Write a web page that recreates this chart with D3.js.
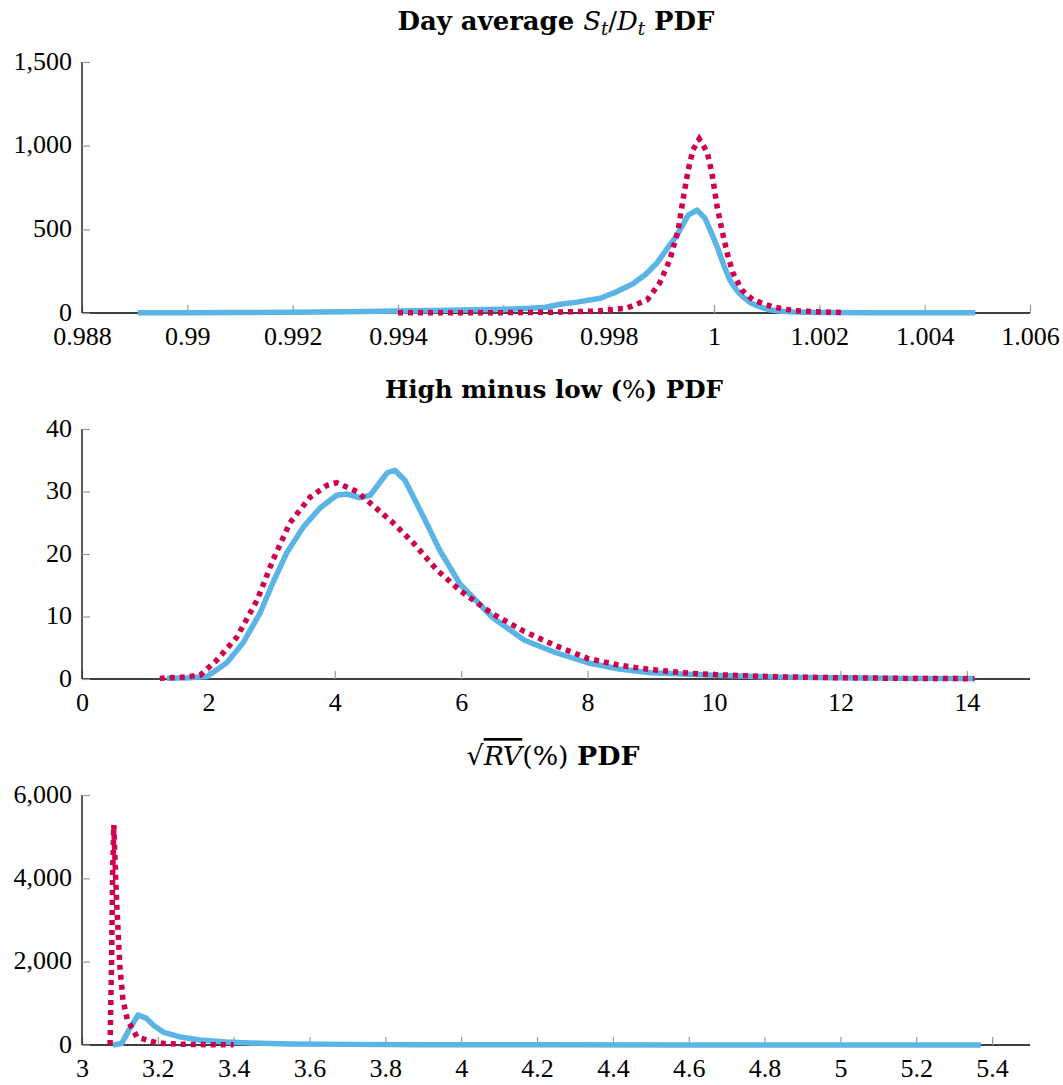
<!DOCTYPE html>
<html>
<head>
<meta charset="utf-8">
<script src="https://cdn.jsdelivr.net/npm/d3@7"></script>
<style>
    body { margin: 0; background: #fff; }
    svg text { fill: #000; }
</style>
</head>
<body>
<div id="chart"></div>
<script>
// panel 1: day average S/D
const p1BlueX = [0.98906, 0.990, 0.991, 0.992, 0.993, 0.994, 0.995, 0.996, 0.9965, 0.9968, 0.99708, 0.9974, 0.99784, 0.9981, 0.99846, 0.99870, 0.99892, 0.99910, 0.9993, 0.99951, 0.99968, 0.99983, 0.99995, 1.00006, 1.00018, 1.0003, 1.00042, 1.00055, 1.0007, 1.00087, 1.00105, 1.00125, 1.0015, 1.002, 1.003, 1.004, 1.00496];
const p1BlueY = [1, 2, 3, 5, 8, 12, 16, 22, 28, 34, 52, 65, 88, 120, 175, 230, 300, 380, 466, 585, 615, 565, 480, 395, 290, 197, 140, 96, 60, 36, 20, 12, 6, 3, 2, 1, 1];
const p1RedX = [0.9940, 0.995, 0.996, 0.997, 0.9978, 0.99835, 0.99873, 0.99897, 0.99916, 0.99932, 0.99941, 0.99951, 0.9996, 0.99972, 0.99987, 0.99996, 1.00006, 1.00015, 1.00025, 1.00036, 1.00053, 1.00074, 1.00112, 1.0015, 1.002, 1.0025];
const p1RedY = [1, 1, 2, 5, 12, 30, 78, 180, 317, 496, 675, 855, 975, 1040, 962, 837, 634, 496, 358, 239, 137, 78, 36, 15, 6, 3];
const p1XTicks = [0.988, 0.99, 0.992, 0.994, 0.996, 0.998, 1, 1.002, 1.004, 1.006];
const p1YTicks = [0, 500, 1000, 1500];

// panel 2: high minus low
const p2BlueX = [1.34, 1.7, 1.98, 2.29, 2.55, 2.82, 3.02, 3.24, 3.50, 3.77, 4.03, 4.19, 4.40, 4.56, 4.83, 4.95, 5.11, 5.40, 5.66, 5.98, 6.5, 7.0, 7.5, 8.0, 8.5, 9.0, 10.0, 11.0, 12.0, 13.0, 14.12];
const p2BlueY = [0.1, 0.2, 0.4, 2.6, 5.8, 10.6, 15.4, 20.2, 24.3, 27.4, 29.4, 29.6, 29.0, 29.4, 33.0, 33.4, 31.8, 26.0, 20.6, 15.2, 9.8, 6.2, 4.2, 2.6, 1.6, 1.0, 0.6, 0.3, 0.2, 0.1, 0.1];
const p2RedX = [1.23, 1.6, 1.87, 2.13, 2.45, 2.77, 3.02, 3.29, 3.61, 3.88, 4.03, 4.35, 4.60, 4.92, 5.24, 5.62, 6.0, 6.5, 7.0, 7.5, 8.0, 8.5, 9.0, 9.5, 10.0, 11.0, 12.0, 13.0, 14.12];
const p2RedY = [0.1, 0.3, 0.6, 3.0, 6.7, 12.6, 19.0, 25.0, 29.1, 31.0, 31.4, 30.0, 27.8, 25.0, 21.8, 17.4, 14.0, 10.4, 7.6, 5.3, 3.3, 2.2, 1.5, 1.0, 0.7, 0.35, 0.2, 0.1, 0.05];
const p2XTicks = [0, 2, 4, 6, 8, 10, 12, 14];
const p2YTicks = [0, 10, 20, 30, 40];

// panel 3: sqrt RV
const p3BlueX = [3.082, 3.105, 3.125, 3.148, 3.17, 3.19, 3.214, 3.26, 3.31, 3.38, 3.47, 3.55, 3.7, 3.9, 4.2, 4.6, 5.0, 5.37];
const p3BlueY = [0, 40, 380, 720, 640, 460, 310, 190, 120, 70, 40, 25, 15, 8, 5, 3, 2, 1];
const p3RedX = [3.074, 3.078, 3.081, 3.084, 3.088, 3.092, 3.095, 3.10, 3.108, 3.12, 3.145, 3.198, 3.25, 3.33, 3.40];
const p3RedY = [0, 2000, 4200, 5280, 4200, 3300, 2760, 1870, 1080, 600, 190, 50, 20, 8, 4];
const p3XTicks = [3, 3.2, 3.4, 3.6, 3.8, 4, 4.2, 4.4, 4.6, 4.8, 5, 5.2, 5.4];
const p3YTicks = [0, 2000, 4000, 6000];

const blue = '#5ab4e5';
const red = '#d0004e';
const serif = '"Liberation Serif", "DejaVu Serif", serif';
const titleFont = '"DejaVu Serif", "Liberation Serif", serif';

let width = 1063;
let height = 1085;
let left = 82, right = 1030;

let svg = d3.select('#chart')
    .append('svg')
    .attr('width', width)
    .attr('height', height);

function zip(xs, ys) {
    return xs.map((x, i) => ({x: x, y: ys[i]}));
}

function drawPanel(opt) {
    let xScale = d3.scaleLinear().domain(opt.xDomain).range([left, right]);
    let yScale = d3.scaleLinear().domain(opt.yDomain).range([opt.bottom, opt.top]);
    let g = svg.append('g');

    let line = d3.line()
        .x(d => xScale(d.x))
        .y(d => yScale(d.y));

    // x axis
    let xAxis = g.append('g')
        .attr('transform', `translate(0,${opt.bottom})`)
        .call(d3.axisBottom(xScale).tickValues(opt.xTicks).tickSize(-8).tickPadding(14)
            .tickFormat(opt.xFormat));
    xAxis.select('.domain').attr('stroke', '#000').attr('stroke-width', 1.3)
        .attr('d', `M${left},0H${right}`);
    xAxis.selectAll('.tick line').attr('stroke', '#999').attr('stroke-width', 1.2);
    xAxis.selectAll('.tick text')
        .style('font-family', serif)
        .style('font-size', '26px')
        .attr('dy', '0.71em');

    // y axis
    let yAxis = g.append('g')
        .attr('transform', `translate(${left},0)`)
        .call(d3.axisLeft(yScale).tickValues(opt.yTicks).tickSize(-8).tickPadding(10)
            .tickFormat(d3.format(',')));
    yAxis.select('.domain').attr('stroke', '#000').attr('stroke-width', 1.3)
        .attr('d', `M0,${opt.bottom}V${opt.top}`);
    yAxis.selectAll('.tick line').attr('stroke', '#999').attr('stroke-width', 1.2);
    yAxis.selectAll('.tick text')
        .style('font-family', serif)
        .style('font-size', '26px')
        .attr('dy', '0.28em');

    // blue solid, red dotted on top
    g.append('path')
        .datum(zip(opt.blueX, opt.blueY))
        .attr('fill', 'none')
        .attr('stroke', blue)
        .attr('stroke-width', 5.5)
        .attr('stroke-linejoin', 'round')
        .attr('d', line);

    g.append('path')
        .datum(zip(opt.redX, opt.redY))
        .attr('fill', 'none')
        .attr('stroke', red)
        .attr('stroke-width', 5.5)
        .attr('stroke-dasharray', '5 5')
        .attr('d', line);

    // title, scaled to the reference width
    let t = svg.append('text')
        .attr('x', opt.titleX)
        .attr('y', opt.titleY)
        .attr('text-anchor', 'middle')
        .style('font-family', titleFont)
        .style('font-size', '22px');
    opt.title(t);
    let w = t.node().getComputedTextLength();
    t.style('font-size', (22 * opt.titleW / w) + 'px');
}

drawPanel({
    xDomain: [0.988, 1.006], yDomain: [0, 1500],
    top: 62, bottom: 313,
    blueX: p1BlueX, blueY: p1BlueY, redX: p1RedX, redY: p1RedY,
    xTicks: p1XTicks, yTicks: p1YTicks,
    xFormat: d3.format('~g'),
    titleX: 556, titleY: 30, titleW: 317,
    title: t => {
        t.append('tspan').attr('font-weight', 'bold').text('Day average ');
        t.append('tspan').attr('font-style', 'italic').text('S');
        t.append('tspan').attr('font-style', 'italic').attr('font-size', '0.7em').attr('dy', 5).text('t');
        t.append('tspan').attr('dy', -5).text('/');
        t.append('tspan').attr('font-style', 'italic').text('D');
        t.append('tspan').attr('font-style', 'italic').attr('font-size', '0.7em').attr('dy', 5).text('t');
        t.append('tspan').attr('dy', -5).attr('font-weight', 'bold').text(' PDF');
    }
});

drawPanel({
    xDomain: [0, 15], yDomain: [0, 40],
    top: 429, bottom: 679,
    blueX: p2BlueX, blueY: p2BlueY, redX: p2RedX, redY: p2RedY,
    xTicks: p2XTicks, yTicks: p2YTicks,
    xFormat: d3.format('d'),
    titleX: 554, titleY: 398, titleW: 338,
    title: t => {
        t.append('tspan').attr('font-weight', 'bold').text('High minus low (');
        t.append('tspan').text('%');
        t.append('tspan').attr('font-weight', 'bold').text(') PDF');
    }
});

drawPanel({
    xDomain: [3, 5.5], yDomain: [0, 6000],
    top: 795, bottom: 1045,
    blueX: p3BlueX, blueY: p3BlueY, redX: p3RedX, redY: p3RedY,
    xTicks: p3XTicks, yTicks: p3YTicks,
    xFormat: d3.format('~g'),
    titleX: 553, titleY: 765, titleW: 173,
    title: t => {
        t.append('tspan').text('\u221A');
        t.append('tspan').attr('font-style', 'italic')
            .style('text-decoration', 'overline').text('RV');
        t.append('tspan').text('(%) ');
        t.append('tspan').attr('font-weight', 'bold').text('PDF');
    }
});
</script>
</body>
</html>
